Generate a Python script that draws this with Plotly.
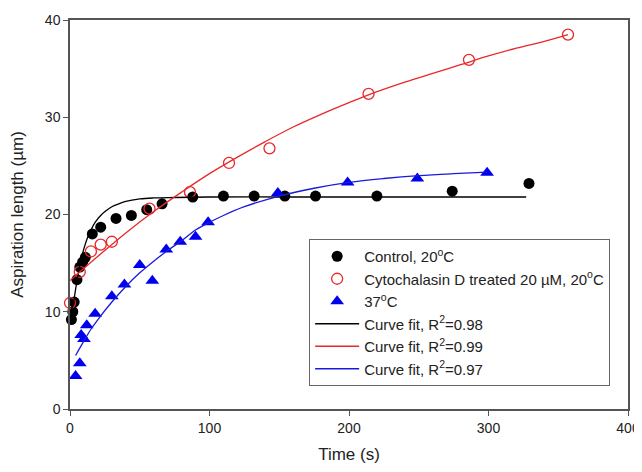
import plotly.graph_objects as go

# ---- data ----
ctrl_t = [1, 2, 3, 5, 7, 9, 11, 16, 22, 33, 44, 55, 66, 88, 110, 132, 154, 176, 220, 274, 329]
ctrl_v = [9.2, 10.0, 11.0, 13.3, 14.6, 15.1, 15.6, 18.0, 18.7, 19.6, 19.9, 20.5, 21.1, 21.8, 21.9, 21.9, 21.9, 21.9, 21.9, 22.4, 23.2]

cyto_t = [0, 7, 15, 22, 30, 57, 86, 114, 143, 214, 286, 357]
cyto_v = [10.9, 14.1, 16.2, 16.9, 17.2, 20.6, 22.3, 25.3, 26.8, 32.4, 35.9, 38.5]

hot_t = [4, 7, 8, 10, 12, 18, 30, 39, 50, 59, 69, 79, 90, 99, 149, 199, 249, 299]
hot_v = [3.4, 4.7, 7.6, 7.2, 8.6, 9.8, 11.6, 12.8, 14.8, 13.2, 16.4, 17.2, 17.7, 19.2, 22.2, 23.3, 23.7, 24.3]

fit_ctrl_t = [0, 2, 4, 6, 8, 10, 12, 15, 18, 22, 26, 30, 35, 40, 50, 60, 75, 100, 150, 200, 250, 327]
fit_ctrl_v = [9.9, 10.6, 12.3, 14.0, 15.4, 16.5, 17.4, 18.4, 19.2, 19.9, 20.4, 20.8, 21.1, 21.35, 21.6, 21.7, 21.75, 21.8, 21.8, 21.8, 21.8, 21.8]

fit_cyto_t = [0, 20, 40, 60, 80, 100, 120, 140, 160, 180, 200, 214, 240, 260, 280, 300, 320, 340, 357]
fit_cyto_v = [13.2, 15.7, 18.1, 20.3, 22.3, 24.2, 25.9, 27.5, 29.0, 30.3, 31.5, 32.3, 33.6, 34.5, 35.4, 36.3, 37.1, 37.8, 38.5]

fit_hot_t = [4, 10, 15, 20, 30, 40, 50, 60, 70, 80, 90, 100, 110, 125, 150, 175, 200, 225, 250, 275, 299]
fit_hot_v = [5.5, 7.0, 8.2, 9.2, 11.0, 12.6, 14.0, 15.2, 16.3, 17.3, 18.4, 19.2, 19.9, 20.8, 21.9, 22.7, 23.3, 23.7, 24.0, 24.2, 24.35]

names = [
    "Control, 20<sup>o</sup>C",
    "Cytochalasin D treated 20 \u00b5M, 20<sup>o</sup>C",
    "37<sup>o</sup>C",
    "Curve fit, R<sup>2</sup>=0.98",
    "Curve fit, R<sup>2</sup>=0.99",
    "Curve fit, R<sup>2</sup>=0.97",
]

fig = go.Figure()

fig.add_trace(go.Scatter(x=ctrl_t, y=ctrl_v, mode="markers", name=names[0],
                         marker=dict(symbol="circle", size=11, color="black"), cliponaxis=False))
fig.add_trace(go.Scatter(x=cyto_t, y=cyto_v, mode="markers", name=names[1],
                         marker=dict(symbol="circle-open", size=11, color="#e8282a", line=dict(width=1.3)),
                         cliponaxis=False))
fig.add_trace(go.Scatter(x=hot_t, y=hot_v, mode="markers", name=names[2],
                         marker=dict(symbol="triangle-up", size=12, color="#0000ee"), cliponaxis=False))
fig.add_trace(go.Scatter(x=fit_ctrl_t, y=fit_ctrl_v, mode="lines", name=names[3],
                         line=dict(color="black", width=1.3, shape="spline")))
fig.add_trace(go.Scatter(x=fit_cyto_t, y=fit_cyto_v, mode="lines", name=names[4],
                         line=dict(color="#e8282a", width=1.3, shape="spline")))
fig.add_trace(go.Scatter(x=fit_hot_t, y=fit_hot_v, mode="lines", name=names[5],
                         line=dict(color="#1a1adb", width=1.3, shape="spline")))

axis_common = dict(showgrid=False, zeroline=False, showline=True, linecolor="#555555", linewidth=1.5,
                   mirror=True, ticks="outside", ticklen=5, tickcolor="#555555", tickwidth=1.2,
                   tickfont=dict(size=14, color="#222222"), automargin=False)

fig.update_layout(
    width=634, height=456,
    margin=dict(l=62, r=14, t=12, b=55, autoexpand=False),
    paper_bgcolor="white", plot_bgcolor="white",
    font=dict(family="Liberation Sans, Arial, sans-serif", color="#222222"),
    xaxis=dict(range=[0, 400], tickvals=[0, 100, 200, 300, 400],
               title=dict(text="Time (s)", font=dict(size=17), standoff=16), **axis_common),
    yaxis=dict(range=[0, 40], tickvals=[0, 10, 20, 30, 40],
               title=dict(text="Aspiration length (\u00b5m)", font=dict(size=17), standoff=17), **axis_common),
    legend=dict(x=0.968, y=0.437, xanchor="right", yanchor="top",
                bordercolor="#666666", borderwidth=1, bgcolor="white",
                font=dict(size=15, color="#222222"), tracegroupgap=0, itemwidth=44),
    showlegend=True,
)

fig.write_html("out.html")
